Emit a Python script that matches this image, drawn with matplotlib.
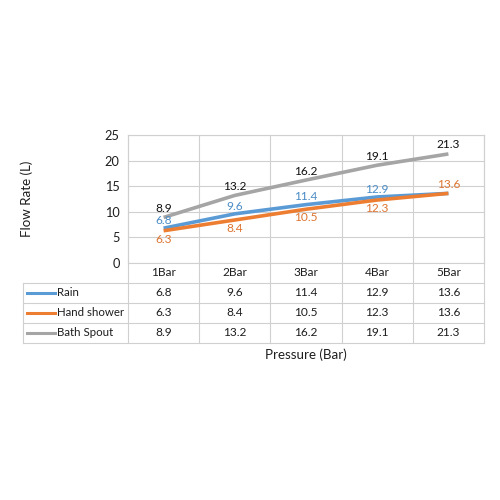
import matplotlib
matplotlib.use("Agg")
import matplotlib.pyplot as plt
from matplotlib.lines import Line2D

categories = ["1Bar", "2Bar", "3Bar", "4Bar", "5Bar"]
series_names = ["Rain", "Hand shower", "Bath Spout"]
rain = [6.8, 9.6, 11.4, 12.9, 13.6]
hand_shower = [6.3, 8.4, 10.5, 12.3, 13.6]
bath_spout = [8.9, 13.2, 16.2, 19.1, 21.3]
y_ticks = [0, 5, 10, 15, 20, 25]

colors = ["#5B9BD5", "#ED7D31", "#A5A5A5"]
label_colors = ["#4A8CC6", "#DD7430", "#111111"]
series = [rain, hand_shower, bath_spout]

plt.rcParams['font.family'] = ['Lato', 'DejaVu Sans']
fig = plt.figure(figsize=(5, 5), dpi=100)
W = H = 500
ax = fig.add_axes([128 / W, 1 - 263 / H, (484 - 128) / W, (263 - 135) / H])
x = list(range(len(categories)))
ax.set_xlim(-0.5, len(categories) - 0.5)
ax.set_ylim(0, 25)

txt_c = "#1E1E1E"
fs = 8.6
grid_c = "#D0D0D0"
for s in ax.spines.values():
    s.set_color(grid_c)
    s.set_linewidth(0.8)
ax.set_yticks(y_ticks)
ax.yaxis.grid(True, color=grid_c, linewidth=0.8)
ax.tick_params(axis='y', length=0, pad=6, labelsize=9.2, labelcolor=txt_c)
ax.set_xticks(x)
ax.set_xticklabels(categories)
ax.tick_params(axis='x', length=0, pad=3.2, labelsize=fs, labelcolor=txt_c)
ax.set_axisbelow(True)

# vertical gridlines at category boundaries, extended into header row
xt = ax.get_xaxis_transform()
row_h = 20 / 128  # in axes fraction
for b in [i - 0.5 for i in range(len(categories) + 1)]:
    ax.add_line(Line2D([b, b], [1, -row_h * 4], transform=xt, color=grid_c,
                       linewidth=0.8, clip_on=False, zorder=0.5))

for i, (vals, c) in enumerate(zip(series, colors)):
    ax.plot(x, vals, color=c, linewidth=2.6, solid_capstyle='butt', zorder=2 + i)

# data labels
for j, v in enumerate(bath_spout):
    ax.annotate(f"{v}", (j, v), xytext=(0, 6.5), textcoords='offset points',
                ha='center', va='center', fontsize=fs, color=label_colors[2], zorder=10)
for j, v in enumerate(rain):
    if j == len(rain) - 1:
        continue
    ax.annotate(f"{v}", (j, v), xytext=(0, 5.5), textcoords='offset points',
                ha='center', va='center', fontsize=fs, color=label_colors[0], zorder=10)
for j, v in enumerate(hand_shower):
    off = 6.5 if j == len(hand_shower) - 1 else -6
    ax.annotate(f"{v}", (j, v), xytext=(0, off), textcoords='offset points',
                ha='center', va='center', fontsize=fs, color=label_colors[1], zorder=10)

# data table
left_px = 23
cat_px = (484 - 128) / len(categories)
x0_data = -0.5 - (128 - left_px) / cat_px
for r in range(4):
    yv = -row_h * (r + 1)
    ax.add_line(Line2D([x0_data, len(categories) - 0.5], [yv, yv], transform=xt,
                       color=grid_c, linewidth=0.8, clip_on=False))
ax.add_line(Line2D([x0_data, x0_data], [-row_h, -row_h * 4], transform=xt,
                   color=grid_c, linewidth=0.8, clip_on=False))

key_w = (55 - 27) / cat_px
kx0 = x0_data + (27 - left_px) / cat_px
for r, (name, vals, c) in enumerate(zip(series_names, series, colors)):
    yc = -row_h * (r + 1.5)
    ax.add_line(Line2D([kx0, kx0 + key_w], [yc, yc], transform=xt, color=c,
                       linewidth=2.2, clip_on=False))
    ax.text(kx0 + key_w + 2 / cat_px, yc, name, transform=xt, ha='left', va='center',
            fontsize=8.3, color=txt_c)
    for j, v in enumerate(vals):
        ax.text(j, yc, f"{v}", transform=xt, ha='center', va='center',
                fontsize=fs, color=txt_c)

fig.text(306 / W, 1 - 355 / H, "Pressure (Bar)", ha='center', va='center',
         fontsize=9.6, color=txt_c)
fig.text(27 / W, 1 - 199 / H, "Flow Rate (L)", ha='center', va='center',
         rotation=90, fontsize=9.6, color=txt_c)

fig.savefig("out.png", dpi=100, facecolor="white")
